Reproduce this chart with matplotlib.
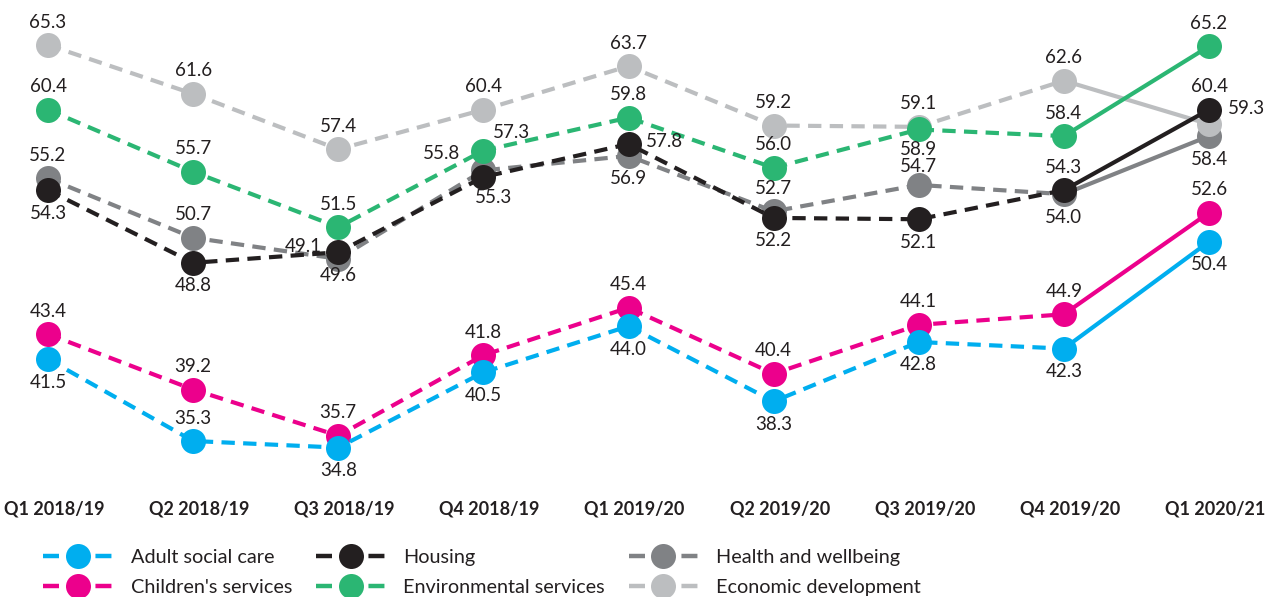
#! /usr/bin/env python3

import matplotlib.pyplot as plt
from   matplotlib.lines import Line2D
from   matplotlib.transforms import ScaledTranslation

#----------------------------------------------------------------------------
# Data
#----------------------------------------------------------------------------
quarters = [ 'Q1 2018/19', 'Q2 2018/19', 'Q3 2018/19', 'Q4 2018/19',
             'Q1 2019/20', 'Q2 2019/20', 'Q3 2019/20', 'Q4 2019/20',
             'Q1 2020/21' ]

adult         = [ 41.5, 35.3, 34.8, 40.5, 44.0, 38.3, 42.8, 42.3, 50.4 ]
children      = [ 43.4, 39.2, 35.7, 41.8, 45.4, 40.4, 44.1, 44.9, 52.6 ]
housing       = [ 54.3, 48.8, 49.6, 55.3, 57.8, 52.2, 52.1, 54.3, 60.4 ]
environmental = [ 60.4, 55.7, 51.5, 57.3, 59.8, 56.0, 58.9, 58.4, 65.2 ]
health        = [ 55.2, 50.7, 49.1, 55.8, 56.9, 52.7, 54.7, 54.0, 58.4 ]
economic      = [ 65.3, 61.6, 57.4, 60.4, 63.7, 59.2, 59.1, 62.6, 59.3 ]

#----------------------------------------------------------------------------
# Style
#----------------------------------------------------------------------------
TXT = '#231f20'

# value label placement: 'a' above, 'b' below, or (dx, dy) offset in points
A, B = 'a', 'b'
place = {
    'adult'         : [ B, A, B, B, B, B, B, B, B ],
    'children'      : [ A, A, A, A, A, A, A, A, A ],
    'housing'       : [ B, B, B, (7,-15), (26,2), B, B, A, A ],
    'environmental' : [ A, A, A, (20,13), A, A, (0,-14.5), A, A ],
    'health'        : [ A, A, (-25,9), (-30,12), B, A, (0,13), B, B ],
    'economic'      : [ A, A, A, A, A, A, A, A, (27,11) ],
}

# drawing order: bottom to top
series = [
    ( 'health',        health,        '#808285', 'Health and wellbeing' ),
    ( 'economic',      economic,      '#bcbec0', 'Economic development' ),
    ( 'environmental', environmental, '#2bb673', 'Environmental services' ),
    ( 'housing',       housing,       '#231f20', 'Housing' ),
    ( 'children',      children,      '#ec008c', "Children's services" ),
    ( 'adult',         adult,         '#00aeef', 'Adult social care' ),
]
legendOrder = [ 'adult', 'children', 'housing', 'environmental',
                'health', 'economic' ]

#----------------------------------------------------------------------------
def main():
    plt.rcParams['font.family'] = [ 'Lato', 'DejaVu Sans' ]

    fig = plt.figure( figsize = (12.73, 5.97), dpi = 100 )
    ax  = fig.add_axes( [0, 0.1876, 1, 0.8124] )

    x = list( range( len( quarters ) ) )
    dash = (0, (3.2, 2.0))

    handles = {}
    for i, (key, vals, color, label) in enumerate( series ):
        z = 2 + 3 * i
        ax.plot( x[:-1], vals[:-1], color = color, lw = 3,
                 linestyle = dash, zorder = z )
        ax.plot( x[-2:], vals[-2:], color = color, lw = 3,
                 linestyle = '-', solid_capstyle = 'butt', zorder = z )
        ax.plot( x, vals, linestyle = 'none', marker = 'o',
                 markersize = 18, color = color, markeredgewidth = 0,
                 zorder = z + 1 )

        for xi, v, p in zip( x, vals, place[ key ] ):
            if p == 'a':
                off = (0, 16.5)
            elif p == 'b':
                off = (0, -16.5)
            else:
                off = p
            ax.annotate( f'{v:.1f}', (xi, v), xytext = off,
                         textcoords = 'offset points', ha = 'center',
                         va = 'center', fontsize = 13.5, color = TXT,
                         zorder = 40 )

        handles[ key ] = Line2D( [0], [0], color = color, lw = 3.2,
                                 linestyle = (0, (3.6, 8.2)),
                                 marker = 'o', markersize = 18,
                                 markeredgewidth = 0, label = label )

    ax.set_xlim( -0.3308, 8.441 )
    ax.set_ylim( 31.967, 68.71 )

    ax.set_xticks( x, labels = quarters, fontweight = 'bold',
                   fontsize = 13, color = TXT )
    ax.tick_params( axis = 'x', length = 0, pad = 11 )
    shift = ScaledTranslation( 6 / 100, 0, fig.dpi_scale_trans )
    for t in ax.get_xticklabels():
        t.set_transform( t.get_transform() + shift )
    ax.set_yticks( [] )
    for s in ax.spines.values():
        s.set_visible( False )

    h = [ handles[k] for k in legendOrder ]
    fig.legend( handles = h, labels = [ hh.get_label() for hh in h ],
                ncol = 3, loc = 'upper left',
                bbox_to_anchor = (0.034, 0.080), frameon = False,
                fontsize = 14.3, handlelength = 3.5, handletextpad = 0.9,
                columnspacing = 1.2, labelspacing = 0.62,
                borderpad = 0, borderaxespad = 0, labelcolor = TXT )

    fig.savefig( 'out.png', dpi = 100 )

#----------------------------------------------------------------------------
if __name__ == "__main__":
    main()
